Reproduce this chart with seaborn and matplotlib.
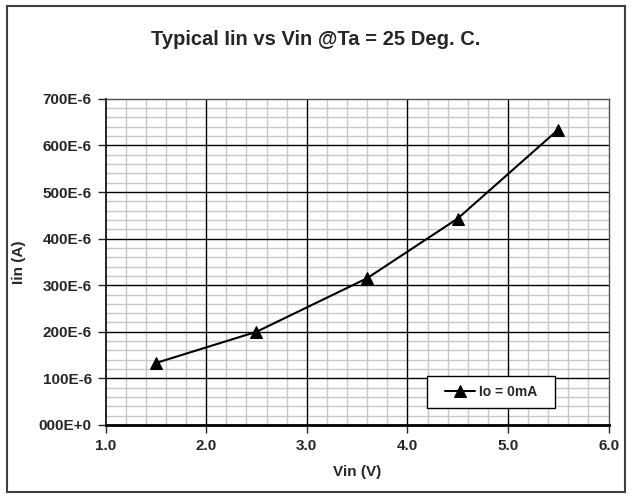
import numpy as np
import pandas as pd
import matplotlib
matplotlib.use("Agg")
import matplotlib.pyplot as plt
import seaborn as sns
from matplotlib.ticker import MultipleLocator, FuncFormatter
from matplotlib.patches import Rectangle

# data
vin = [1.5, 2.5, 3.6, 4.5, 5.5]
iin = [133e-6, 200e-6, 315e-6, 443e-6, 634e-6]
series_name = "Io = 0mA"

df = pd.DataFrame({"Vin": vin, "Iin": iin, "series": series_name})

sns.set_style("white")
plt.rcParams["font.family"] = ["Liberation Sans", "DejaVu Sans"]
plt.rcParams["font.weight"] = "bold"

fig = plt.figure(figsize=(6.32, 4.98), dpi=100)
ax = fig.add_axes([0.167, 0.1466, 0.796, 0.655])

sns.lineplot(data=df, x="Vin", y="Iin", marker="^", markersize=8, color="black",
             linewidth=1.5, markeredgecolor="black", label=series_name, ax=ax,
             zorder=5)

ax.set_xlim(1.0, 6.0)
ax.set_ylim(0, 700e-6)
ax.xaxis.set_major_locator(MultipleLocator(1.0))
ax.xaxis.set_minor_locator(MultipleLocator(0.2))
ax.yaxis.set_major_locator(MultipleLocator(100e-6))
ax.yaxis.set_minor_locator(MultipleLocator(20e-6))
ax.xaxis.set_major_formatter(FuncFormatter(lambda v, p: f"{v:.1f}"))


def yfmt(v, p):
    u = int(round(v * 1e6))
    return "000E+0" if u == 0 else f"{u:03d}E-6"


ax.yaxis.set_major_formatter(FuncFormatter(yfmt))

# minor grid from the axis, major grid drawn on top of it at the major ticks
ax.set_axisbelow(True)
ax.grid(which="minor", color="#c8c8c8", linewidth=1.0)
ax.grid(which="major", visible=False)
xt = [t for t in ax.get_xticks() if 1.0 < t < 6.0]
yt = [t for t in ax.get_yticks() if 0 < t < 700e-6]
ax.vlines(xt, 0, 1, transform=ax.get_xaxis_transform(), color="black",
          linewidth=1.0, zorder=1)
ax.hlines(yt, 0, 1, transform=ax.get_yaxis_transform(), color="black",
          linewidth=1.0, zorder=1)

for s in ["top", "right"]:
    ax.spines[s].set_color("#505050")
    ax.spines[s].set_linewidth(1.0)
ax.spines["bottom"].set_color("black")
ax.spines["bottom"].set_linewidth(2.0)
ax.spines["left"].set_color("black")
ax.spines["left"].set_linewidth(1.2)

ax.tick_params(which="major", direction="out", length=6, width=1.0,
               bottom=True, left=True, labelsize=11, pad=4)
ax.tick_params(which="minor", length=0)

ax.set_xlabel("Vin (V)", fontsize=11, fontweight="bold", labelpad=9)
ax.set_ylabel("Iin (A)", fontsize=11, fontweight="bold", labelpad=9)

fig.text(0.5, 0.92, "Typical Iin vs Vin @Ta = 25 Deg. C.", ha="center",
         va="center", fontsize=14.5, fontweight="bold")

# legend: box drawn at the reference position, entries centred inside
box = (0.639, 0.052, 0.2545, 0.098)
ax.add_patch(Rectangle(box[:2], box[2], box[3], transform=ax.transAxes,
                       facecolor="white", edgecolor="black", linewidth=1.0,
                       zorder=6))
leg = ax.legend(loc="center", bbox_to_anchor=(box[0] + box[2] / 2, box[1] + box[3] / 2),
                frameon=False, fontsize=10, handlelength=2.2,
                handletextpad=0.25, borderaxespad=0)
leg.set_zorder(7)

fig.patches.append(Rectangle((0.011, 0.012), 0.978, 0.976, transform=fig.transFigure,
                             fill=False, edgecolor="#404040", linewidth=1.5))

fig.savefig("out.png", dpi=100)
